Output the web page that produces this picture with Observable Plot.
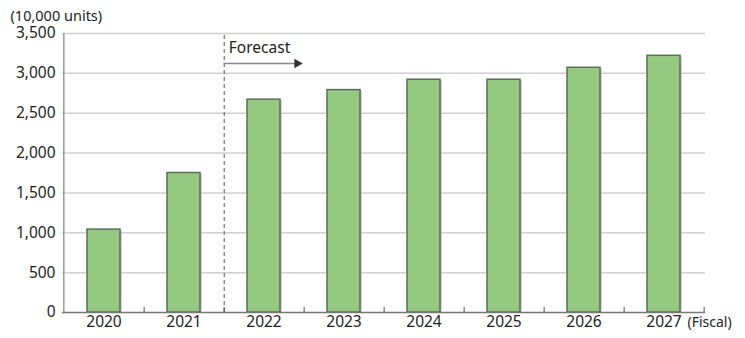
<!DOCTYPE html>
<html>
<head>
<meta charset="utf-8">
<script src="https://cdn.jsdelivr.net/npm/d3@7"></script>
<script src="https://cdn.jsdelivr.net/npm/@observablehq/plot@0.6"></script>
<style>
  html, body { margin: 0; padding: 0; background: #fff; }
  svg { font-family: "Noto Sans", sans-serif; }
</style>
</head>
<body>
<div id="chart"></div>
<script>
const years = ["2020", "2021", "2022", "2023", "2024", "2025", "2026", "2027"];
const units = [1040, 1750, 2670, 2790, 2920, 2920, 3070, 3220];
const yTicks = [0, 500, 1000, 1500, 2000, 2500, 3000, 3500];
const forecastStart = "2022";
const unitLabel = "(10,000 units)";
const fiscalLabel = "(Fiscal)";
const forecastLabel = "Forecast";

const data = years.map((y, i) => ({year: y, value: units[i]}));

const W = 745, H = 338, mL = 62, mR = 40, mT = 33, mB = 26;
const step = (W - mL - mR) / years.length;
const yMax = 3500;
const tickLen = 5 * yMax / (H - mT - mB);
const prevYear = years[years.indexOf(forecastStart) - 1];
const FS = 15.5;

const plot = Plot.plot({
  width: W, height: H,
  marginLeft: mL, marginRight: mR, marginTop: mT, marginBottom: mB,
  style: {fontSize: FS + "px", fontFamily: "'Noto Sans', sans-serif", color: "#222"},
  x: {domain: years, paddingInner: 0.59, paddingOuter: 0.295, label: null, tickSize: 0, tickPadding: 3},
  y: {domain: [0, yMax], ticks: yTicks, tickFormat: d3.format(","), label: null, tickSize: 0, tickPadding: 7},
  marks: [
    Plot.gridY(yTicks.slice(1), {stroke: "#cfcfcf", strokeOpacity: 1, strokeWidth: 1.5}),
    Plot.ruleX([years[0]], {x: d => d, dx: -step / 2, y1: 0, y2: yMax, stroke: "#999", strokeWidth: 1.5}),
    Plot.ruleX(years, {x: d => d, dx: step / 2, y1: 0, y2: tickLen, stroke: "#888", strokeWidth: 1.5}),
    Plot.ruleX([prevYear], {x: d => d, dx: step / 2, y1: 0, y2: yMax, stroke: "#555", strokeWidth: 1, strokeDasharray: "4,3"}),
    Plot.barY(data, {x: "year", y: "value", fill: "#bbbbbb", dx: 1.5, insetTop: 1}),
    Plot.barY(data, {x: "year", y: "value", fill: "#95c982", stroke: "#5c6d58", strokeWidth: 1.5}),
    Plot.ruleY([0], {stroke: "#777", strokeWidth: 1.5}),
    Plot.text([forecastLabel], {x: () => forecastStart, y: () => yMax, dx: -step / 2 + 5, dy: 15, text: d => d, textAnchor: "start", fontSize: FS, fill: "#222"}),
    Plot.arrow([0], {x1: () => prevYear, x2: () => forecastStart, y1: () => yMax, y2: () => yMax, dx: step / 2, dy: 30, stroke: "#888", strokeWidth: 1.5, headLength: 0, insetEnd: 7, bend: 0}),
    Plot.dot([0], {x: () => forecastStart, y: () => yMax, dx: step / 2 - 7, dy: 30, symbol: "triangle", rotate: 90, r: 3.6, fill: "#333", stroke: "none"}),
    Plot.text([unitLabel], {frameAnchor: "top-left", dx: -mL + 10, dy: -23, text: d => d, textAnchor: "start", fontSize: 14.5, fill: "#222"}),
    Plot.text([fiscalLabel], {frameAnchor: "bottom-right", dx: -18, dy: 14, text: d => d, textAnchor: "start", fontSize: 14, fill: "#222"})
  ]
});
document.getElementById("chart").appendChild(plot);
</script>
</body>
</html>
